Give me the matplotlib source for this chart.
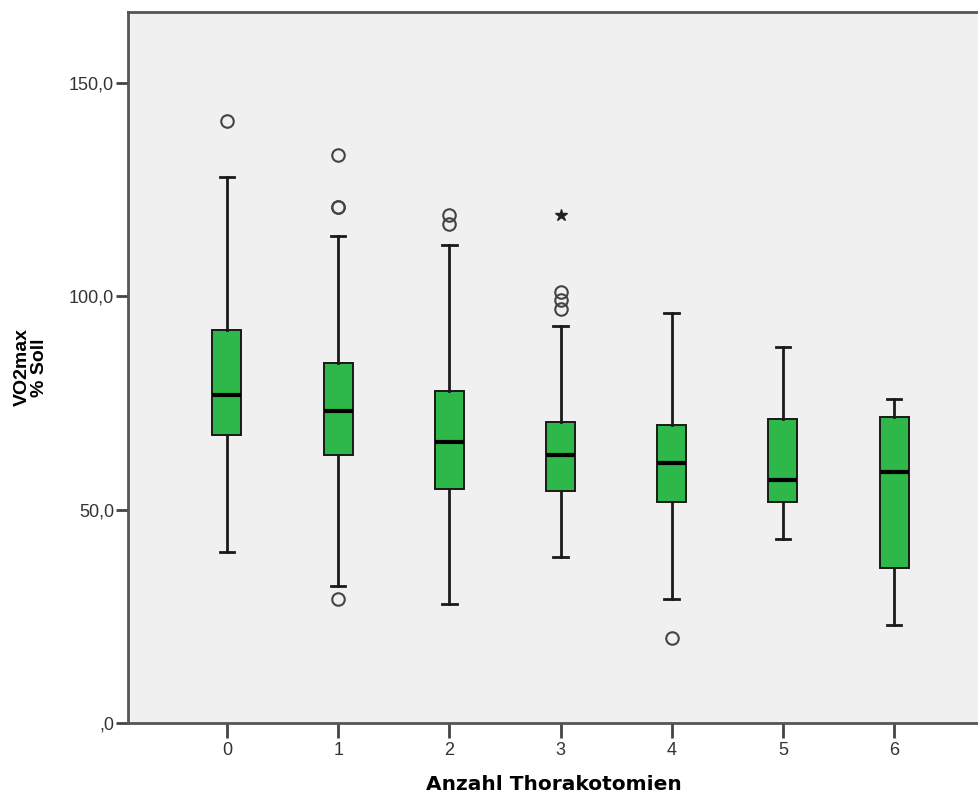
import matplotlib
matplotlib.use("Agg")
import matplotlib.pyplot as plt

categories = ["0", "1", "2", "3", "4", "5", "6"]
whisker_low = [40.0, 32.0, 28.0, 39.0, 29.0, 43.0, 23.0]
q1 = [67.5, 62.8, 54.8, 54.4, 51.8, 51.8, 36.3]
median = [76.9, 73.0, 65.9, 62.8, 60.9, 56.9, 58.8]
q3 = [92.1, 84.4, 77.9, 70.5, 69.8, 71.2, 71.8]
whisker_high = [128.0, 114.0, 112.0, 93.0, 96.0, 88.0, 76.0]
outliers = [[141.0], [133.0, 121.0, 121.0, 29.0], [119.0, 117.0], [101.0, 99.0, 97.0], [20.0], [], []]
extremes = [[], [], [], [119.0], [], [], []]
yticks = [0, 50, 100, 150]
ytick_labels = [",0", "50,0", "100,0", "150,0"]

plt.rcParams['font.family'] = ['Liberation Sans', 'DejaVu Sans']

fig = plt.figure(figsize=(9.79, 7.95), dpi=100)
ax = fig.add_axes([128/979, 72/795, 1 - 128/979, 711/795])
ax.set_facecolor('#f0f0f0')

stats = []
for i in range(len(categories)):
    stats.append(dict(med=median[i], q1=q1[i], q3=q3[i],
                      whislo=whisker_low[i], whishi=whisker_high[i],
                      fliers=outliers[i], label=categories[i]))

positions = list(range(len(categories)))
ax.bxp(stats, positions=positions, widths=0.26, patch_artist=True,
       boxprops=dict(facecolor='#2eb84a', edgecolor='#1a1a1a', linewidth=1.4),
       medianprops=dict(color='black', linewidth=3),
       whiskerprops=dict(color='#1a1a1a', linewidth=2),
       capprops=dict(color='#1a1a1a', linewidth=2),
       capwidths=0.13,
       flierprops=dict(marker='o', markerfacecolor='none', markeredgecolor='#444444',
                       markersize=9, markeredgewidth=1.5, linestyle='none'))

for i, ex in enumerate(extremes):
    if ex:
        ax.plot([positions[i]] * len(ex), ex, linestyle='none', marker='*',
                color='#222222', markersize=9)

ax.set_xlim(-0.89, 6.764)
ax.set_ylim(0, 166.6)
ax.set_yticks(yticks)
ax.set_yticklabels(ytick_labels)
ax.set_xticks(positions)
ax.set_xticklabels(categories)

for s in ['left', 'top', 'bottom']:
    ax.spines[s].set_color('#555555')
    ax.spines[s].set_linewidth(2)
ax.spines['right'].set_visible(False)

ax.tick_params(axis='y', direction='out', length=9, width=2, color='#444444',
               labelsize=13, labelcolor='#333333', pad=1)
ax.tick_params(axis='x', direction='out', length=11, width=2, color='#444444',
               labelsize=13, labelcolor='#333333', pad=3)

ax.set_xlabel("Anzahl Thorakotomien", fontsize=14.5, fontweight='bold', labelpad=11,
              family=['DejaVu Sans'])
ax.set_ylabel("VO2max\n% Soll", fontsize=14, fontweight='bold',
              linespacing=0.95, va='center')
ax.yaxis.set_label_coords((31 - 128) / 851, 0.5)

fig.savefig("out.png", dpi=100)
